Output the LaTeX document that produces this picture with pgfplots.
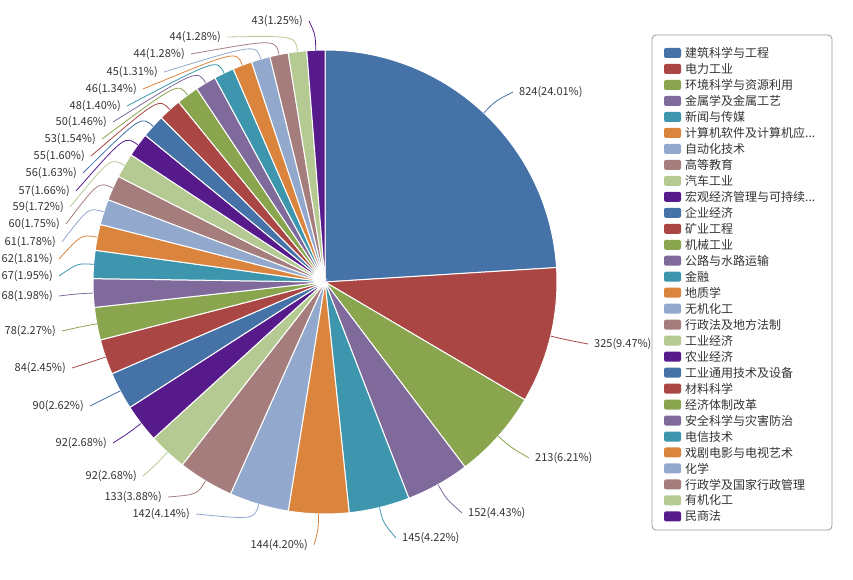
\documentclass[border=0pt]{standalone}
\usepackage{fontspec}
\setmainfont{Noto Sans CJK SC}
\usepackage{pgfplots}
\usepackage{pgfplotstable}
\pgfplotsset{compat=1.18}

\definecolor{c0}{HTML}{4572A7}
\definecolor{c1}{HTML}{AA4643}
\definecolor{c2}{HTML}{89A54E}
\definecolor{c3}{HTML}{80699B}
\definecolor{c4}{HTML}{3D96AE}
\definecolor{c5}{HTML}{DB843D}
\definecolor{c6}{HTML}{92A8CD}
\definecolor{c7}{HTML}{A47D7C}
\definecolor{c8}{HTML}{B5CA92}
\definecolor{c9}{HTML}{561A8B}
\definecolor{txt}{HTML}{333333}
\newcommand\trunc{...}

% value, percent, label position (px, y from top), side (1 right, -1 left)
\pgfplotstableread{
v   pct   lx  ly  side
824 24.01 519 92  1
325 9.47  594 344 1
213 6.21  535 458 1
152 4.43  468 513 1
145 4.22  402 538 1
144 4.20  308 545 -1
142 4.14  190 514 -1
133 3.88  162 497 -1
92  2.68  137 476 -1
92  2.68  107 443 -1
90  2.62  84  406 -1
84  2.45  66  368 -1
78  2.27  56  331 -1
68  1.98  53  296 -1
67  1.95  53  276 -1
62  1.81  53  259 -1
61  1.78  56  242 -1
60  1.75  60  224 -1
59  1.72  64  207 -1
57  1.66  70  191 -1
56  1.63  77  173 -1
55  1.60  85  156 -1
53  1.54  96  139 -1
50  1.46  107 122 -1
48  1.40  121 106 -1
46  1.34  137 89  -1
45  1.31  158 72  -1
44  1.28  185 54  -1
44  1.28  221 37  -1
43  1.25  303 21  -1
}\piedata

\begin{document}
\begin{tikzpicture}
\begin{axis}[x=1pt, y=1pt, xmin=0, xmax=853, ymin=0, ymax=580,
  scale only axis, hide axis, clip=false]
\path (axis cs:0,0) rectangle (axis cs:853,580);
\pgfplotsextra{
  \gdef\cum{0}
  \foreach \i in {0,...,29}{
    \pgfplotstablegetelem{\i}{v}\of\piedata \let\val\pgfplotsretval
    \pgfplotstablegetelem{\i}{pct}\of\piedata \let\pct\pgfplotsretval
    \pgfplotstablegetelem{\i}{lx}\of\piedata \let\lx\pgfplotsretval
    \pgfplotstablegetelem{\i}{ly}\of\piedata \let\ly\pgfplotsretval
    \pgfplotstablegetelem{\i}{side}\of\piedata \let\side\pgfplotsretval
    \pgfmathsetmacro\aA{90-\cum/3432*360}
    \pgfmathsetmacro\aB{90-(\cum+\val)/3432*360}
    \pgfmathsetmacro\am{(\aA+\aB)/2}
    \pgfmathtruncatemacro\ci{mod(\i,10)}
    \fill[c\ci, draw=white, line width=1pt] (axis cs:325,298) -- ++(\aA:232pt)
      arc[start angle=\aA, end angle=\aB, radius=232pt] -- cycle;
    \pgfmathsetmacro\px{325+232*cos(\am)}
    \pgfmathsetmacro\py{298+232*sin(\am)}
    \pgfmathsetmacro\qx{325+248*cos(\am)}
    \pgfmathsetmacro\qy{298+248*sin(\am)}
    \pgfmathsetmacro\ex{\lx-6*\side}
    \pgfmathsetmacro\ey{580-\ly}
    \draw[c\ci, line width=0.8pt] (axis cs:\px,\py) .. controls (axis cs:\qx,\qy) .. (axis cs:\ex,\ey);
    \ifnum\side>0 \def\anc{west}\else\def\anc{east}\fi
    \node[anchor=\anc, inner sep=0pt, text=txt, font=\fontsize{11}{13}\selectfont]
      at (axis cs:\lx,\ey) {\val(\pct\%)};
    \pgfmathsetmacro\newcum{\cum+\val}
    \xdef\cum{\newcum}
  }
  % legend
  \draw[rounded corners=4pt, draw=gray!80, line width=0.8pt] (axis cs:652,50) rectangle (axis cs:832,545);
  \foreach \name [count=\k from 0] in {建筑科学与工程, 电力工业, 环境科学与资源利用, 金属学及金属工艺,
    新闻与传媒, 计算机软件及计算机应\trunc, 自动化技术, 高等教育, 汽车工业, 宏观经济管理与可持续\trunc,
    企业经济, 矿业工程, 机械工业, 公路与水路运输, 金融, 地质学, 无机化工, 行政法及地方法制,
    工业经济, 农业经济, 工业通用技术及设备, 材料科学, 经济体制改革, 安全科学与灾害防治,
    电信技术, 戏剧电影与电视艺术, 化学, 行政学及国家行政管理, 有机化工, 民商法}{
    \pgfmathtruncatemacro\ci{mod(\k,10)}
    \pgfmathsetmacro\ry{580-53-15.98*\k}
    \fill[c\ci, rounded corners=2pt] (axis cs:664,\ry-5) rectangle (axis cs:681,\ry+5);
    \node[anchor=west, inner sep=0pt, text=txt, font=\fontsize{12}{14}\selectfont]
      at (axis cs:685,\ry) {\name};
  }
}
\end{axis}
\end{tikzpicture}
\end{document}
